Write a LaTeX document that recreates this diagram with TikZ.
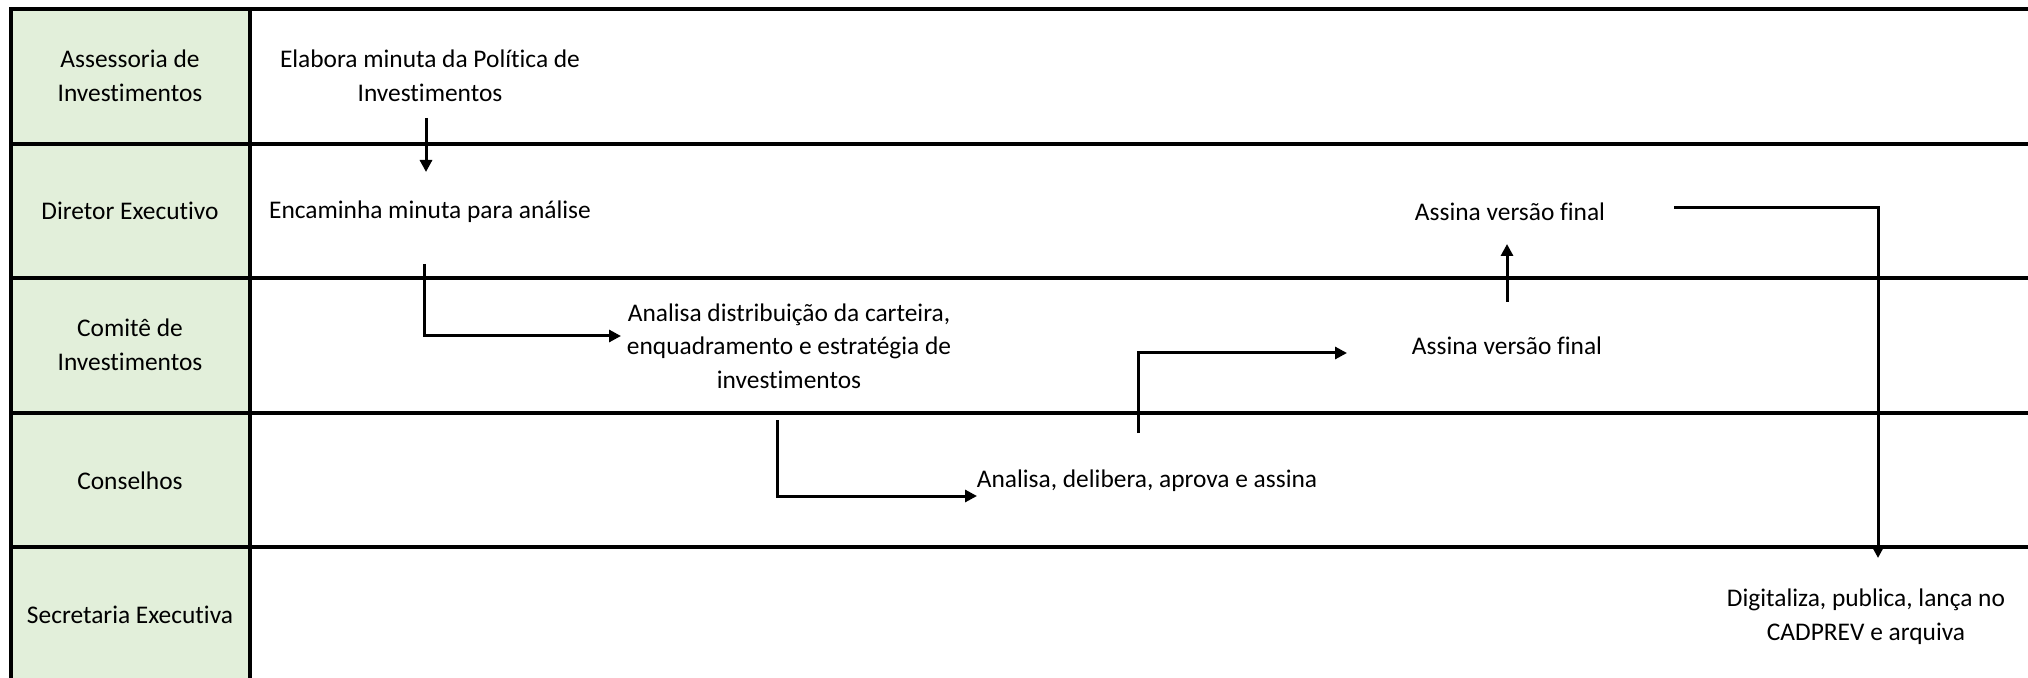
\documentclass[tikz,border=0pt]{standalone}
\usepackage{fontspec}
\setmainfont{Carlito}[Ligatures=NoCommon]
\usetikzlibrary{arrows.meta}
\definecolor{lanegreen}{HTML}{E2EFDA}
\begin{document}
\begin{tikzpicture}[x=0.5pt,y=-0.5pt,
  lane/.style={line width=1.7pt},
  lbl/.style={align=center,inner sep=0pt,font=\fontsize{12.7}{16.8}\selectfont},
  txt/.style={align=center,inner sep=0pt,font=\fontsize{12.7}{16.8}\selectfont},
  flow/.style={line width=1.5pt,-{Triangle[length=6pt,width=6pt]}},
  line join=miter]
\useasboundingbox (0,0) rectangle (2028,678);
% lanes
\fill[lanegreen] (11,9) rectangle (250,690);
\draw[lane] (2030,9) -- (11,9) -- (11,690);
\draw[lane] (250,9) -- (250,690);
\foreach \y in {144,278,413,547} \draw[lane] (11,\y) -- (2030,\y);
% lane labels
\node[lbl] (l1) at (130,76) {Assessoria de\\Investimentos};
\node[lbl] (l2) at (130,211) {Diretor Executivo};
\node[lbl] (l3) at (130,345) {Comitê de\\Investimentos};
\node[lbl] (l4) at (130,481) {Conselhos};
\node[lbl] (l5) at (130,615) {Secretaria Executiva};
% steps
\node[txt] (n1) at (430,76) {Elabora minuta da Política de\\Investimentos};
\node[txt] (n2) at (430,212) {Encaminha minuta para análise};
\node[txt] (n3) at (789,346) {Analisa distribuição da carteira,\\enquadramento e estratégia de\\investimentos};
\node[txt] (n4) at (1147,481) {Analisa, delibera, aprova e assina};
\node[txt] (n5) at (1507,346) {Assina versão final};
\node[txt] (n6) at (1510,212) {Assina versão final};
\node[txt] (n7) at (1866,617) {Digitaliza, publica, lança no\\CADPREV e arquiva};
% connector end points
\coordinate (a0) at (426,118); \coordinate (a1) at (426,172);
\coordinate (b0) at (424,264); \coordinate (b1) at (621,336);
\coordinate (c0) at (777,420); \coordinate (c1) at (977,496);
\coordinate (d0) at (1138,433); \coordinate (d1) at (1347,353);
\coordinate (e0) at (1507,302); \coordinate (e1) at (1507,244);
\coordinate (f0) at (1674,208); \coordinate (f1) at (1878,558);
% connectors
\draw[flow] (a0) -- (a1);
\draw[flow] (b0) |- (b1);
\draw[flow] (c0) |- (c1);
\draw[flow] (d0) |- (d1);
\draw[flow] (e0) -- (e1);
\draw[flow] (f0) -| (f1);
\end{tikzpicture}
\end{document}
